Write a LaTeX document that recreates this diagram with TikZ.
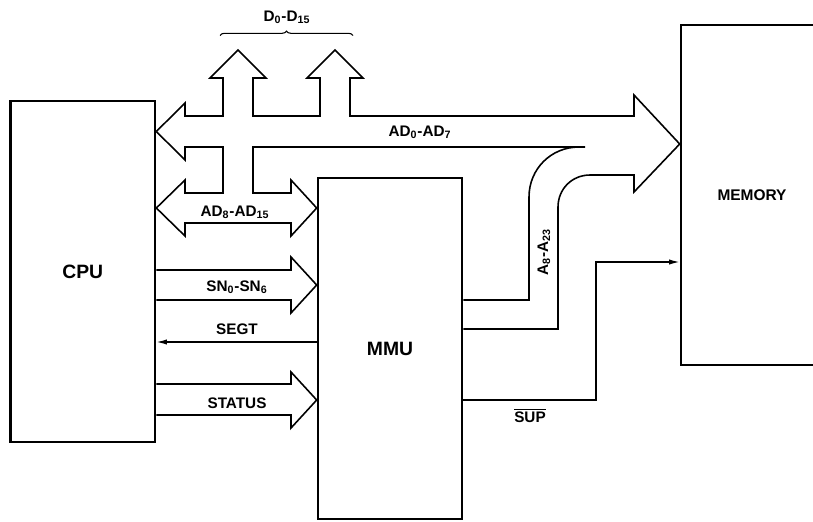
\documentclass[tikz,border=0pt]{standalone}
\usepackage{fontspec}
\setmainfont{Liberation Sans}
\usetikzlibrary{arrows.meta,decorations.pathreplacing}

\newcommand{\busub}[1]{\textsubscript{#1}}

\begin{document}
\begin{tikzpicture}[x=0.02cm, y=-0.02cm,
  unit/.style={draw, line width=1.5pt, inner sep=0pt, font=\bfseries\fontsize{11}{13}\selectfont},
  busline/.style={line width=0.9pt, line join=miter},
  sigline/.style={line width=0.8pt},
  lbl/.style={font=\bfseries\fontsize{8.7}{10}\selectfont, inner sep=1pt}]

\useasboundingbox (0,0) rectangle (813,521);
\clip (0,0) rectangle (813,521);

% Units
\node[unit, minimum width=2.89cm, minimum height=6.82cm] (cpu) at (82.75,271.5) {CPU};
\node[unit, minimum width=2.88cm, minimum height=6.82cm] (mmu) at (390,348.5) {MMU};
\node[unit, minimum width=2.84cm, minimum height=6.8cm,
  font=\bfseries\fontsize{8.8}{10}\selectfont] (mem) at (752,195) {MEMORY};

% Data bus taps
\draw[line width=0.6pt, decorate, decoration={brace, amplitude=2.5pt}] (220,35.5) -- (353,35.5);
\node[lbl] (dbus) at (287,17) {D\busub{0}-D\busub{15}};

% AD0-AD7 bus, upper outline, going on as A8-A23 to the MMU
\draw[busline] (cpu.east |- 0,131.5) -- (185,103) -- (185,116) -- (223,116)
  -- (223,78) -- (210,78) -- (238,50) -- (266,78) -- (253,78) -- (253,116)
  -- (320,116) -- (320,78) -- (307,78) -- (335,50) -- (363,78) -- (350,78)
  -- (350,116) -- (634,116) -- (634,95) -- (mem.west |- 0,144) -- (634,192)
  -- (634,175) -- (590,175) .. controls (572,175) and (558,189) .. (558,207)
  -- (558,329) -- (mmu.east |- 0,329);

% lower outline and AD8-AD15
\draw[busline] (cpu.east |- 0,131.5) -- (185,160) -- (185,147) -- (223,147)
  -- (223,193) -- (185,193) -- (185,180) -- (cpu.east |- 0,208) -- (185,236)
  -- (185,223) -- (291,223) -- (291,236) -- (mmu.west |- 0,208) -- (291,180)
  -- (291,193) -- (253,193) -- (253,147) -- (585,147);
\draw[busline] (579,147) .. controls (551,147) and (529,169) .. (529,197)
  -- (529,300) -- (mmu.east |- 0,300);

\node[lbl] (ad07) at (420,132) {AD\busub{0}-AD\busub{7}};
\node[lbl] (ad815) at (235,212) {AD\busub{8}-AD\busub{15}};
\node[lbl, rotate=90] (abus) at (544,252) {A\busub{8}-A\busub{23}};

% SN0-SN6
\draw[busline] (cpu.east |- 0,270) -- (291,270) -- (291,257) -- (mmu.west |- 0,285)
  -- (291,313) -- (291,300) -- (cpu.east |- 0,300);
\node[lbl] (sn) at (237,287) {SN\busub{0}-SN\busub{6}};

% SEGT
\draw[sigline, -{Latex[length=6pt,width=3pt]}] (mmu.west |- 0,342) -- (cpu.east |- 0,342);
\node[lbl] (segt) at (237,329) {SEGT};

% STATUS
\draw[busline] (cpu.east |- 0,384) -- (291,384) -- (291,372) -- (mmu.west |- 0,400)
  -- (291,428) -- (291,415) -- (cpu.east |- 0,415);
\node[lbl] (status) at (237,403) {STATUS};

% SUP
\draw[sigline, -{Latex[length=6pt,width=3pt]}] (mmu.east |- 0,400) -- (596,400)
  -- (596,262) -- (mem.west |- 0,262);
\node[lbl] (sup) at (530,415) {$\overline{\mbox{SUP}}$};

\end{tikzpicture}
\end{document}
